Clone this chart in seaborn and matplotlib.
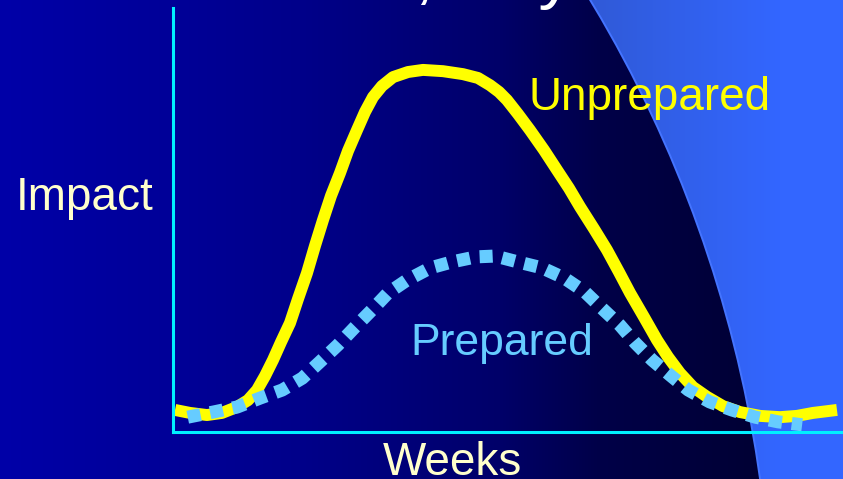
import numpy as np
import pandas as pd
import matplotlib
matplotlib.use("Agg")
import matplotlib.pyplot as plt
from matplotlib.patches import Circle
import seaborn as sns

# Epidemic curves: weeks after onset vs. relative impact (0-100)
unprepared_weeks = [0.030, 0.254, 0.507, 0.731, 0.955, 1.119, 1.254, 1.373, 1.493,
                    1.612, 1.746, 1.866, 2.000, 2.119, 2.239, 2.358, 2.493, 2.612,
                    2.746, 2.866, 2.985, 3.119, 3.284, 3.507, 3.731, 4.030, 4.328,
                    4.552, 4.731, 4.866, 4.985, 5.149, 5.328, 5.537, 5.731, 5.910,
                    6.075, 6.284, 6.478, 6.657, 6.821, 7.030, 7.224, 7.388, 7.567,
                    7.761, 7.970, 8.209, 8.463, 8.761, 9.060, 9.313, 9.552, 9.910]
unprepared_impact = [5.2, 4.5, 4.0, 4.5, 5.9, 7.5, 9.9, 13.2, 17.0,
                     21.2, 25.7, 31.4, 37.5, 43.9, 50.0, 55.7, 61.1, 66.3,
                     71.2, 75.5, 79.0, 81.6, 83.7, 84.9, 85.4, 85.1, 84.4,
                     83.5, 81.8, 80.2, 78.3, 75.0, 71.2, 66.5, 61.8, 57.5,
                     53.1, 47.9, 42.9, 37.7, 32.8, 27.1, 21.7, 17.7, 13.9,
                     10.6, 8.3, 6.1, 4.7, 3.8, 3.5, 3.8, 4.5, 5.2]

prepared_weeks = [0.22, 0.60, 0.96, 1.30, 1.63, 1.93, 2.19, 2.46, 2.72, 2.97,
                  3.21, 3.49, 3.84, 4.16, 4.52, 4.81, 5.15, 5.51, 5.84, 6.15,
                  6.40, 6.67, 6.90, 7.15, 7.42, 7.69, 8.01, 8.34, 8.69, 9.03,
                  9.39]
prepared_impact = [3.5, 4.7, 5.9, 8.0, 9.9, 12.7, 16.5, 20.5, 24.8, 28.8,
                   32.8, 35.8, 38.7, 40.1, 41.3, 41.5, 40.1, 38.7, 36.3, 33.0,
                   29.2, 25.2, 21.0, 17.0, 13.4, 9.9, 7.1, 5.2, 3.5, 2.4,
                   1.7]

title_text = "Slow Loss, Buy Time"
y_label = "Impact"
x_label = "Weeks"
unprepared_label = "Unprepared"
prepared_label = "Prepared"

W, H = 843, 479
DPI = 100
FONT = "Liberation Sans"

fig = plt.figure(figsize=(W / DPI, H / DPI), dpi=DPI)

# ---- slide background: blue gradient disc over a lighter blue field ----
bg = fig.add_axes([0, 0, 1, 1])
bg.set_axis_off()
xx, yy = np.meshgrid(np.arange(W) + 0.5, np.arange(H) + 0.5)
cx, cy, rad = -488.0, 652.0, 1260.0
dist = np.hypot(xx - cx, yy - cy)
inside = np.clip(rad - dist + 0.5, 0, 1)[..., None]

inner_b = np.interp(xx, [0, 170, 300, 500, 600, 760], [168, 152, 138, 105, 72, 52])
inner = np.stack([np.zeros_like(xx), np.zeros_like(xx), inner_b], axis=-1)
outer = np.stack([np.interp(xx, [590, 780], [48, 51]),
                  np.interp(xx, [590, 780], [90, 102]),
                  np.interp(xx, [590, 780], [215, 255])], axis=-1)
img = (inside * inner + (1 - inside) * outer) / 255.0
bg.imshow(img, extent=(0, W, H, 0), aspect="auto", interpolation="bilinear")
bg.add_patch(Circle((cx, cy), rad, facecolor="none", edgecolor="#4474FF", lw=1.4))
bg.set_xlim(0, W)
bg.set_ylim(H, 0)

# ---- chart axes ----
left_px, right_px, top_px, bottom_px = 173, 843, 8, 432
ax = fig.add_axes([left_px / W, (H - bottom_px) / H,
                   (right_px - left_px) / W, (bottom_px - top_px) / H])
ax.set_facecolor("none")

unprepared = pd.DataFrame({"week": unprepared_weeks, "impact": unprepared_impact})
prepared = pd.DataFrame({"week": prepared_weeks, "impact": prepared_impact})

sns.lineplot(data=unprepared, x="week", y="impact", ax=ax, estimator=None,
             sort=False, color="#FFFF00", linewidth=8.6, solid_capstyle="butt",
             solid_joinstyle="round", clip_on=False, zorder=3)
sns.lineplot(data=prepared, x="week", y="impact", ax=ax, estimator=None,
             sort=False, color="#66CCFF", linewidth=9.4,
             linestyle=(0, (1, 0.75)), dash_capstyle="butt",
             clip_on=False, zorder=4)

ax.set_xlim(0, 10)
ax.set_ylim(0, 100)
ax.set_xticks([])
ax.set_yticks([])
ax.set_xlabel("")
ax.set_ylabel("")
for side in ("top", "right"):
    ax.spines[side].set_visible(False)
for side in ("left", "bottom"):
    ax.spines[side].set_color("#00F0FF")
    ax.spines[side].set_linewidth(2.2)
    ax.spines[side].set_zorder(5)

# ---- text ----
def px_text(x, y, s, **kw):
    fig.text(x / W, 1 - y / H, s, family=FONT, **kw)

px_text(420, -4, title_text, fontsize=50, color="white", ha="center", va="baseline")
px_text(16, 210, y_label, fontsize=33, color="#FFFFCC", ha="left", va="baseline")
px_text(383, 475, x_label, fontsize=33, color="#FFFFCC", ha="left", va="baseline")
px_text(528, 110, unprepared_label, fontsize=33, color="#FFFF00", ha="left", va="baseline")
px_text(410, 355, prepared_label, fontsize=32, color="#66CCFF", ha="left", va="baseline")

fig.savefig("out.png", dpi=DPI)
